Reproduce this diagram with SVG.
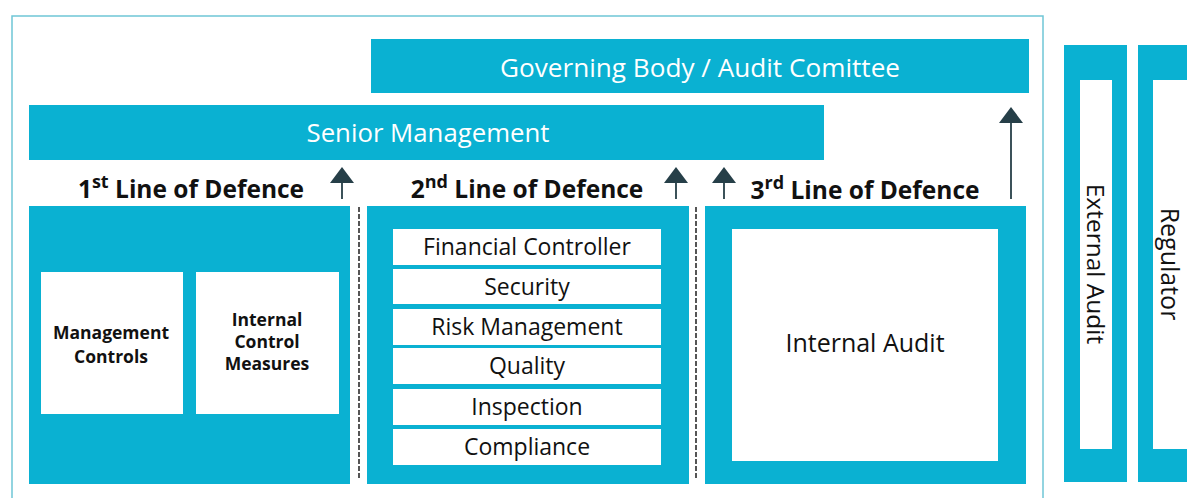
<svg xmlns="http://www.w3.org/2000/svg" width="1187" height="498" viewBox="0 0 1187 498">
<style>
.teal{fill:#0ab1d2}
.wh{fill:#ffffff}
.frame{fill:none;stroke:#6fc6d6;stroke-width:1.5}
.ttl{font-family:"Open Sans","Liberation Sans",sans-serif;fill:#ffffff;font-size:25px;text-anchor:middle}
.hd{font-family:"Open Sans","Liberation Sans",sans-serif;fill:#111111;font-size:24.5px;font-weight:bold;text-anchor:middle}
.sup{font-size:18px}
.it{font-family:"Open Sans","Liberation Sans",sans-serif;fill:#111111;font-size:23px;text-anchor:middle}
.sm{font-family:"Open Sans","Liberation Sans",sans-serif;fill:#111111;font-size:17.5px;font-weight:bold;text-anchor:middle}
.arr{stroke:#263f48;stroke-width:1.8;fill:none}
.dash{stroke:#555555;stroke-width:2;stroke-dasharray:5,2;fill:none}
</style>
<defs>
<marker id="ah" viewBox="0 0 16 24" refX="0" refY="12" markerWidth="16" markerHeight="24" markerUnits="userSpaceOnUse" orient="auto">
<path d="M0,0 L16,12 L0,24 Z" fill="#263f48"/>
</marker>
</defs>
<rect width="1187" height="498" fill="#ffffff"/>
<rect class="frame" x="12" y="16" width="1031" height="500"/>

<g id="governing">
<rect class="teal" x="371" y="39" width="658" height="54"/>
<text class="ttl" x="700" y="77" textLength="400" lengthAdjust="spacingAndGlyphs">Governing Body / Audit Comittee</text>
</g>
<g id="senior">
<rect class="teal" x="29" y="105" width="795" height="55"/>
<text class="ttl" x="428" y="142" textLength="243" lengthAdjust="spacingAndGlyphs">Senior Management</text>
</g>

<g id="line1">
<text class="hd" x="191" y="198">1<tspan class="sup" dy="-10">st</tspan><tspan dy="10"> Line of Defence</tspan></text>
<rect class="teal" x="29" y="206" width="321" height="278"/>
<rect class="wh" x="41" y="272" width="142" height="142"/>
<text class="sm" x="111" y="339">Management</text>
<text class="sm" x="111" y="363">Controls</text>
<rect class="wh" x="196" y="272" width="143" height="142"/>
<text class="sm" x="267" y="326">Internal</text>
<text class="sm" x="267" y="348">Control</text>
<text class="sm" x="267" y="370">Measures</text>
</g>

<g id="line2">
<text class="hd" x="527" y="198">2<tspan class="sup" dy="-10">nd</tspan><tspan dy="10"> Line of Defence</tspan></text>
<rect class="teal" x="367" y="206" width="322" height="278"/>
<rect class="wh" x="393" y="229" width="268" height="36"/>
<text class="it" x="527" y="255">Financial Controller</text>
<rect class="wh" x="393" y="269" width="268" height="35"/>
<text class="it" x="527" y="295">Security</text>
<rect class="wh" x="393" y="309" width="268" height="36"/>
<text class="it" x="527" y="335">Risk Management</text>
<rect class="wh" x="393" y="348" width="268" height="36"/>
<text class="it" x="527" y="374">Quality</text>
<rect class="wh" x="393" y="389" width="268" height="36"/>
<text class="it" x="527" y="415">Inspection</text>
<rect class="wh" x="393" y="429" width="268" height="36"/>
<text class="it" x="527" y="455">Compliance</text>
</g>

<g id="line3">
<text class="hd" x="865" y="199">3<tspan class="sup" dy="-10">rd</tspan><tspan dy="10"> Line of Defence</tspan></text>
<rect class="teal" x="705" y="206" width="321" height="278"/>
<rect class="wh" x="732" y="229" width="266" height="232"/>
<text class="it" x="865" y="352" style="font-size:25px">Internal Audit</text>
</g>

<g id="external-audit">
<rect class="teal" x="1064" y="45" width="63" height="437"/>
<rect class="wh" x="1080" y="80" width="32" height="369"/>
<text class="it" transform="translate(1087,264) rotate(90)" x="0" y="0" style="font-size:24.5px">External Audit</text>
</g>
<g id="regulator">
<rect class="teal" x="1138" y="45" width="60" height="437"/>
<rect class="wh" x="1153" y="80" width="40" height="369"/>
<text class="it" transform="translate(1161,264) rotate(90)" x="0" y="0" style="font-size:25px">Regulator</text>
</g>

<g id="connectors">
<line class="arr" x1="342" y1="199" x2="342" y2="183" marker-end="url(#ah)"/>
<line class="arr" x1="676" y1="199" x2="676" y2="183" marker-end="url(#ah)"/>
<line class="arr" x1="724" y1="199" x2="724" y2="183" marker-end="url(#ah)"/>
<line class="arr" x1="1011" y1="199" x2="1011" y2="123" marker-end="url(#ah)"/>
<line class="dash" x1="359" y1="207" x2="359" y2="480"/>
<line class="dash" x1="696" y1="207" x2="696" y2="480"/>
</g>
</svg>
